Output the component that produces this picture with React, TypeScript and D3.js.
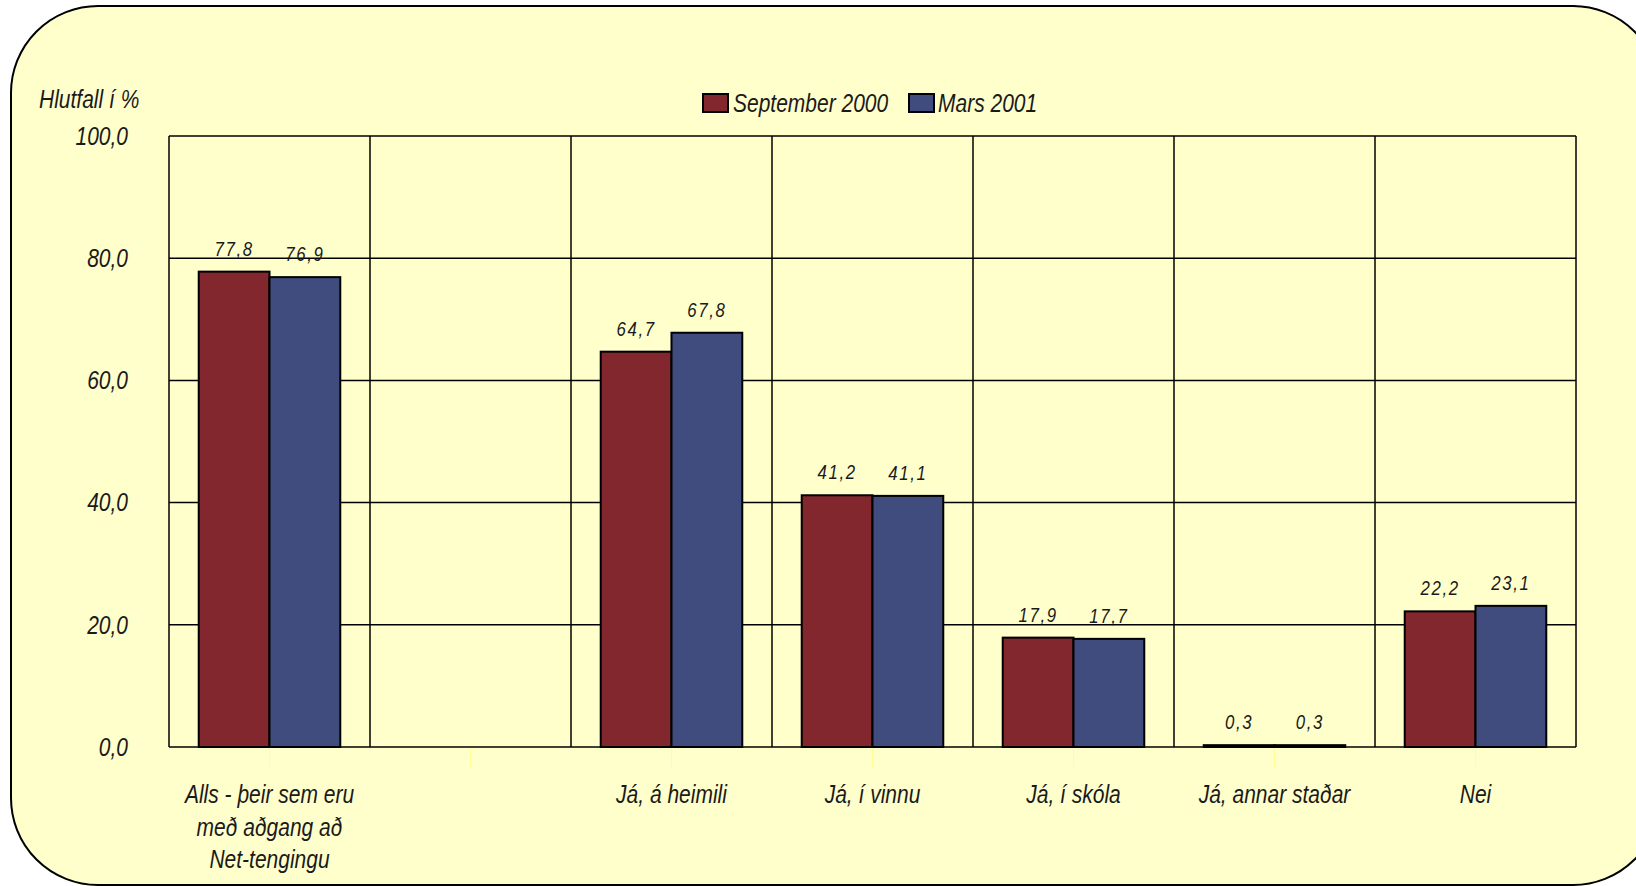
import React from 'react';
import * as d3 from 'd3';

const categories = [
  ['Alls - þeir sem eru', 'með aðgang að', 'Net-tengingu'],
  [''],
  ['Já, á heimili'],
  ['Já, í vinnu'],
  ['Já, í skóla'],
  ['Já, annar staðar'],
  ['Nei'],
];
const seriesNames = ['September 2000', 'Mars 2001'];
const sept2000 = [77.8, null, 64.7, 41.2, 17.9, 0.3, 22.2];
const mars2001 = [76.9, null, 67.8, 41.1, 17.7, 0.3, 23.1];
const yTicks = [0, 20, 40, 60, 80, 100];

const colors = ['#82272D', '#404C7E'];
const FONT = '"Liberation Sans", Arial, sans-serif';
const SX = 0.84; // narrow look

const W = 1636;
const H = 886;
const margin = { left: 169, right: 60, top: 136, bottom: 139 };

const fmt = (v: number) => v.toFixed(1).replace('.', ',');

// italic narrow text: squeeze horizontally around its anchor point
function T({ x, y, anchor = 'start', size = 25, dy, spacing = 0, children }: any) {
  return (
    <text
      transform={`translate(${x},${y}) scale(${SX},1)`}
      textAnchor={anchor}
      fontSize={size}
      dy={dy}
      letterSpacing={spacing}
      fill="#1a1a1a"
    >
      {children}
    </text>
  );
}

export default function App() {
  const keys = categories.map((_, i) => String(i));
  const x = d3.scaleBand().domain(keys).range([margin.left, W - margin.right]).padding(0);
  const x1 = d3.scaleBand().domain(seriesNames).range([0, x.bandwidth()]).paddingInner(0).paddingOuter(0.42);
  const y = d3.scaleLinear().domain([0, 100]).range([H - margin.bottom, margin.top]);
  const values = [sept2000, mars2001];
  const y0 = y(0);

  return (
    <div>
      <style>{`body{margin:0;background:#fff}`}</style>
      <svg width={W} height={H} style={{ display: 'block', fontFamily: FONT, fontStyle: 'italic' }}>
        <rect x={11} y={6} width={1649} height={879} rx={87} ry={87} fill="#FFFFCC" stroke="#000" strokeWidth={2} />

        {/* gridlines */}
        {yTicks.map((t) => (
          <line key={'h' + t} x1={margin.left} x2={W - margin.right} y1={y(t)} y2={y(t)} stroke="#000" strokeWidth={1.5} />
        ))}
        {keys.concat(['end']).map((k, i) => {
          const xx = i < keys.length ? (x(k) as number) : W - margin.right;
          return <line key={'v' + i} x1={xx} x2={xx} y1={margin.top} y2={y0} stroke="#000" strokeWidth={1.5} />;
        })}

        {/* bars */}
        {keys.map((k, ci) =>
          seriesNames.map((s, si) => {
            const v = values[si][ci];
            if (v == null) return null;
            const bx = (x(k) as number) + (x1(s) as number);
            return (
              <g key={k + s}>
                <rect x={bx} y={y(v)} width={x1.bandwidth()} height={y0 - y(v)} fill={colors[si]} stroke="#000" strokeWidth={2} />
                <T x={bx + x1.bandwidth() / 2} y={y(v) - 16} anchor="middle" size={20} spacing={2}>
                  {fmt(v)}
                </T>
              </g>
            );
          })
        )}

        {/* category ticks */}
        {keys.map((k) => {
          const cx = (x(k) as number) + x.bandwidth() / 2;
          return <line key={'t' + k} x1={cx} x2={cx} y1={y0 + 1} y2={y0 + 20} stroke="#FFFF99" strokeWidth={1} />;
        })}

        {/* y tick labels */}
        {yTicks.map((t) => (
          <T key={'yl' + t} x={128} y={y(t)} dy="0.35em" anchor="end">
            {fmt(t)}
          </T>
        ))}
        <T x={39} y={108}>Hlutfall í %</T>

        {/* category labels */}
        {categories.map((lines, ci) =>
          lines.map((ln, li) => (
            <T key={'c' + ci + '-' + li} x={(x(keys[ci]) as number) + x.bandwidth() / 2} y={803 + li * 32.5} anchor="middle">
              {ln}
            </T>
          ))
        )}

        {/* legend */}
        <g>
          <rect x={703} y={94} width={25} height={18} fill={colors[0]} stroke="#000" strokeWidth={2} />
          <T x={733} y={112}>{seriesNames[0]}</T>
          <rect x={909} y={94} width={25} height={18} fill={colors[1]} stroke="#000" strokeWidth={2} />
          <T x={938} y={112}>{seriesNames[1]}</T>
        </g>
      </svg>
    </div>
  );
}
